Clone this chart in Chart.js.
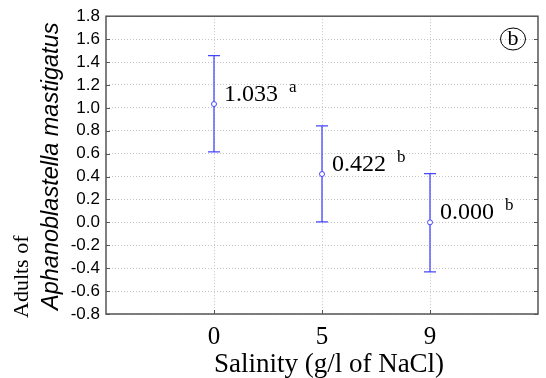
<!DOCTYPE html>
<html>
<head>
<meta charset="utf-8">
<script src="https://cdn.jsdelivr.net/npm/chart.js@4.4.1/dist/chart.umd.min.js"></script>
<style>
  html, body { margin: 0; padding: 0; background: #ffffff; }
  #wrap { width: 546px; height: 378px; position: relative; }
</style>
</head>
<body>
<div id="wrap"><canvas id="c" width="546" height="378"></canvas></div>
<script>
// ---- data ----
const categories = ['0', '5', '9'];
const means = [1.033, 0.422, 0.000];
const upperValues = [1.455, 0.842, 0.425];
const lowerValues = [0.615, 0.005, -0.432];
const groupLetters = ['a', 'b', 'b'];
const xTitle = 'Salinity (g/l of NaCl)';
const yTitleLine1 = 'Adults of';
const yTitleLine2 = 'Aphanoblastella mastigatus';
const panelLabel = 'b';

const BLUE = '#4646ff';

const points = means.map((m, i) => ({ x: i, y: m }));

const errorBarPlugin = {
  id: 'errorBars',
  beforeDatasetsDraw(chart) {
    const { ctx, scales: { x, y } } = chart;
    ctx.save();
    ctx.strokeStyle = BLUE;
    ctx.lineWidth = 1.3;
    categories.forEach((c, i) => {
      const px = x.getPixelForValue(i);
      const yt = y.getPixelForValue(upperValues[i]);
      const yb = y.getPixelForValue(lowerValues[i]);
      ctx.beginPath();
      ctx.moveTo(px, yt); ctx.lineTo(px, yb);
      ctx.moveTo(px - 6, yt); ctx.lineTo(px + 6, yt);
      ctx.moveTo(px - 6, yb); ctx.lineTo(px + 6, yb);
      ctx.stroke();
    });
    ctx.restore();
  },
  afterDatasetsDraw(chart) {
    const { ctx, scales: { x, y } } = chart;
    ctx.save();
    ctx.fillStyle = '#000';
    ctx.textAlign = 'left';
    ctx.textBaseline = 'alphabetic';
    means.forEach((m, i) => {
      const px = x.getPixelForValue(i);
      const py = y.getPixelForValue(m);
      const txt = m.toFixed(3);
      ctx.font = '24px "Liberation Serif", serif';
      ctx.fillText(txt, px + 10, py - 3);
      const w = ctx.measureText(txt).width;
      ctx.font = '17px "Liberation Serif", serif';
      ctx.fillText(groupLetters[i], px + 10 + w + 11, py - 12);
    });
    ctx.restore();
  },
  afterDraw(chart) {
    const { ctx, chartArea: a, scales: { x, y } } = chart;
    ctx.save();
    // frame
    ctx.strokeStyle = '#555';
    ctx.lineWidth = 1.5;
    ctx.strokeRect(a.left, a.top, a.right - a.left, a.bottom - a.top);
    // inward ticks
    ctx.lineWidth = 1;
    ctx.beginPath();
    y.ticks.forEach(t => {
      const py = Math.round(y.getPixelForValue(t.value)) + 0.5;
      ctx.moveTo(a.left, py); ctx.lineTo(a.left + 4, py);
      ctx.moveTo(a.right, py); ctx.lineTo(a.right - 4, py);
    });
    x.ticks.forEach(t => {
      const px = Math.round(x.getPixelForValue(t.value)) + 0.5;
      ctx.moveTo(px, a.bottom); ctx.lineTo(px, a.bottom - 4);
    });
    ctx.stroke();
    ctx.fillStyle = '#000';
    // x axis title
    ctx.font = '27px "Liberation Serif", serif';
    ctx.textAlign = 'center';
    ctx.textBaseline = 'alphabetic';
    ctx.fillText(xTitle, 329, 372);
    // y axis titles
    ctx.textAlign = 'left';
    ctx.save();
    ctx.translate(28, 318);
    ctx.rotate(-Math.PI / 2);
    ctx.font = '22px "Liberation Serif", serif';
    ctx.fillText(yTitleLine1, 0, 0);
    ctx.restore();
    ctx.save();
    ctx.translate(58, 310);
    ctx.rotate(-Math.PI / 2);
    ctx.font = 'italic 23.5px "Liberation Sans", Arial, sans-serif';
    ctx.fillText(yTitleLine2, 0, 0);
    ctx.restore();
    // panel label
    ctx.lineWidth = 1;
    ctx.strokeStyle = '#000';
    ctx.beginPath();
    ctx.ellipse(513, 39, 12.5, 11, 0, 0, Math.PI * 2);
    ctx.stroke();
    ctx.font = '22px "Liberation Serif", serif';
    ctx.textAlign = 'center';
    ctx.textBaseline = 'middle';
    ctx.fillText(panelLabel, 513, 39);
    ctx.restore();
  }
};

new Chart(document.getElementById('c'), {
  type: 'scatter',
  data: {
    datasets: [{
      data: points,
      pointRadius: 2.5,
      pointHoverRadius: 2.5,
      pointBackgroundColor: '#ffffff',
      pointBorderColor: BLUE,
      pointBorderWidth: 1,
      showLine: false
    }]
  },
  options: {
    responsive: false,
    animation: false,
    events: [],
    layout: { padding: { top: 15, right: 8, left: 0, bottom: 0 } },
    plugins: { legend: { display: false }, tooltip: { enabled: false } },
    scales: {
      x: {
        type: 'linear',
        min: -1,
        max: 3,
        afterBuildTicks: (s) => { s.ticks = categories.map((c, i) => ({ value: i })); },
        afterFit: (s) => { s.height = 64; },
        ticks: {
          callback: (v) => categories[v],
          color: '#000',
          font: { family: '"Liberation Serif", serif', size: 25 },
          padding: 8,
          maxRotation: 0,
          autoSkip: false
        },
        grid: { color: '#c4c4c4', lineWidth: 1, drawTicks: false },
        border: { display: false, dash: [1, 2] }
      },
      y: {
        type: 'linear',
        min: -0.8,
        max: 1.8,
        afterFit: (s) => { s.width = 106; },
        ticks: {
          stepSize: 0.2,
          autoSkip: false,
          callback: (v) => (Math.abs(v) < 1e-9 ? 0 : v).toFixed(1),
          color: '#000',
          font: { family: '"Liberation Sans", Arial, sans-serif', size: 17 },
          padding: 6
        },
        grid: { color: '#c4c4c4', lineWidth: 1, drawTicks: false },
        border: { display: false, dash: [1, 2] }
      }
    }
  },
  plugins: [errorBarPlugin]
});
</script>
</body>
</html>
